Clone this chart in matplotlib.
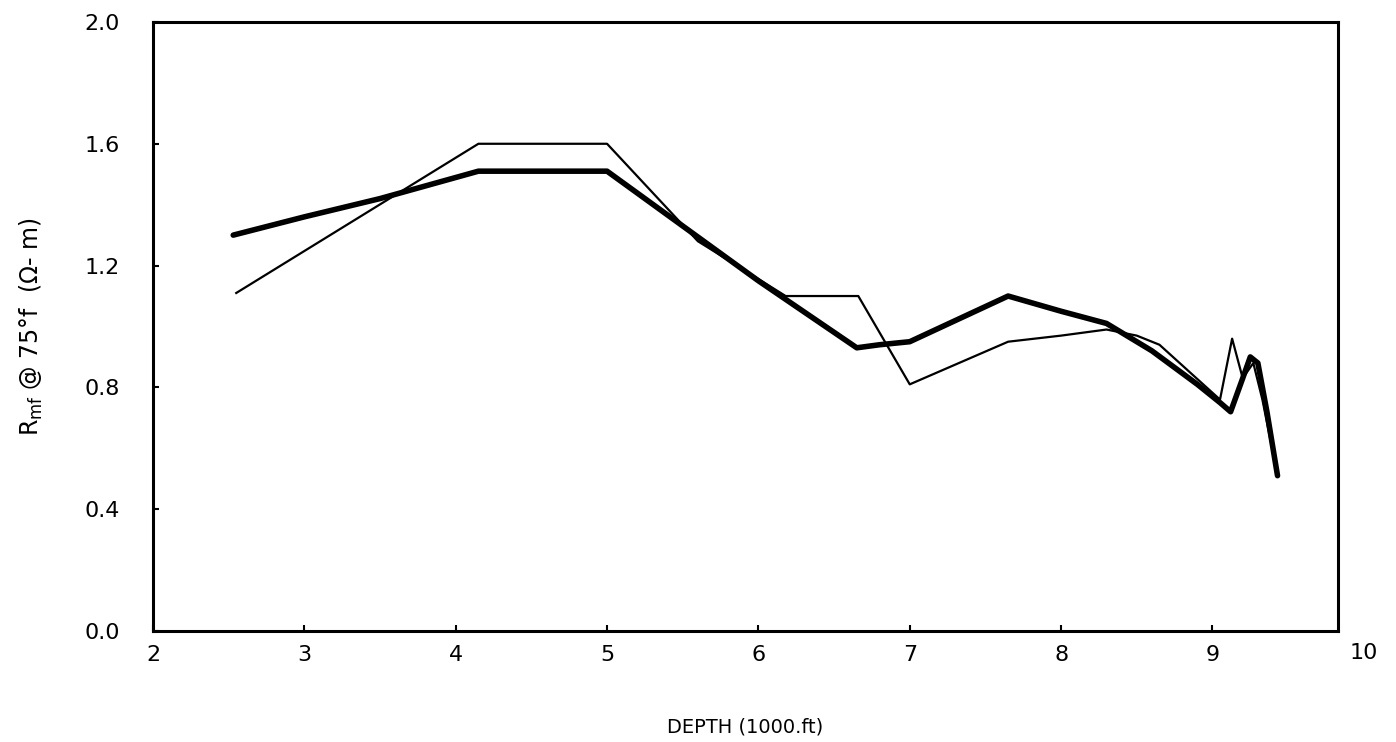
import matplotlib
matplotlib.use("Agg")
import matplotlib.pyplot as plt
import matplotlib.transforms as mtransforms

# Thick curve
thick_x = [2.53, 3.0, 3.5, 4.15, 5.0, 5.5, 6.0, 6.65, 6.8, 7.0, 7.65, 8.0, 8.3, 8.6, 8.9, 9.05, 9.12, 9.2, 9.25, 9.3, 9.36, 9.43]
thick_y = [1.30, 1.36, 1.42, 1.51, 1.51, 1.33, 1.15, 0.93, 0.94, 0.95, 1.10, 1.05, 1.01, 0.92, 0.81, 0.75, 0.72, 0.83, 0.90, 0.88, 0.72, 0.51]

# Thin curve
thin_x = [2.55, 4.15, 5.0, 5.6, 6.18, 6.66, 7.0, 7.65, 8.0, 8.3, 8.5, 8.65, 9.05, 9.13, 9.2, 9.27, 9.33, 9.43]
thin_y = [1.11, 1.60, 1.60, 1.28, 1.10, 1.10, 0.81, 0.95, 0.97, 0.99, 0.97, 0.94, 0.76, 0.96, 0.83, 0.88, 0.76, 0.51]

x_ticks = [2, 3, 4, 5, 6, 7, 8, 9]
y_ticks = [0.0, 0.4, 0.8, 1.2, 1.6, 2.0]
y_tick_labels = ["0.0", "0.4", "0.8", "1.2", "1.6", "2.0"]

fig = plt.figure(figsize=(13.96, 7.42), dpi=100)
ax = fig.add_axes([0.1096, 0.1496, 0.9585 - 0.1096, 0.9704 - 0.1496])

ax.plot(thin_x, thin_y, color="black", lw=1.6, solid_joinstyle="round")
ax.plot(thick_x, thick_y, color="black", lw=4.0, solid_joinstyle="round", solid_capstyle="round")

ax.set_xlim(2, 9.83)
ax.set_ylim(0, 2.0)
ax.set_xticks(x_ticks)
ax.set_xticklabels([str(t) for t in x_ticks])
ax.set_yticks(y_ticks)
ax.set_yticklabels(y_tick_labels)
ax.tick_params(direction="in", length=4, width=1.5, labelsize=16)
ax.tick_params(axis="y", pad=24)
ax.tick_params(axis="x", pad=10)
for s in ax.spines.values():
    s.set_linewidth(2.2)

trans = mtransforms.blended_transform_factory(ax.transData, ax.transAxes)
ax.text(10, -0.0205, "10", transform=trans, ha="center", va="top", fontsize=16,
        clip_on=False)

ax.set_xlabel("DEPTH (1000.ft)", fontsize=14, labelpad=38)
ax.set_ylabel(r"R$_{\rm mf}$ @ 75°f  (Ω- m)", fontsize=17, labelpad=28)

fig.savefig("out.png", dpi=100, facecolor="white")
